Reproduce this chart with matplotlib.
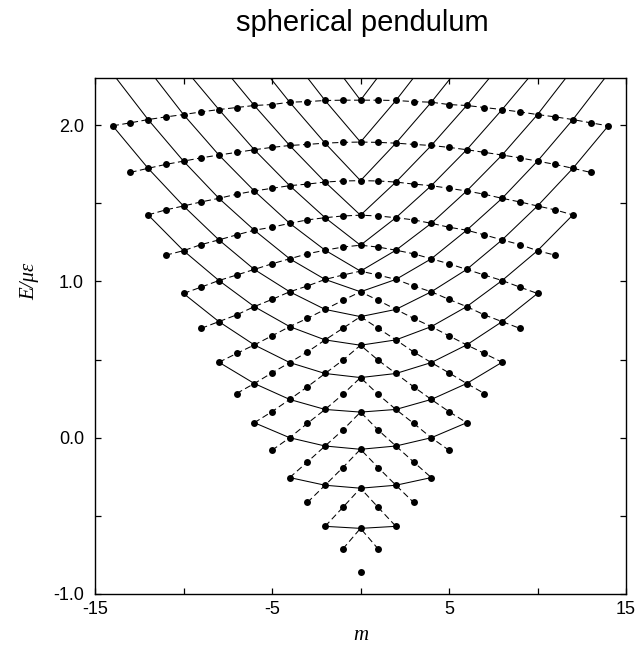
import numpy as np
import matplotlib
matplotlib.use('Agg')
import matplotlib.pyplot as plt

plt.rcParams['font.family'] = ['Liberation Sans', 'DejaVu Sans']
plt.rcParams['lines.scale_dashes'] = False

# E/(mu eps) of level (l, m) for m = 0..l, levels are symmetric in m
E0 = [-0.857]
E1 = [-0.580, -0.712]
E2 = [-0.323, -0.446, -0.567]
E3 = [-0.074, -0.191, -0.304, -0.414]
E4 = [0.164, 0.049, -0.053, -0.155, -0.255]
E5 = [0.385, 0.277, 0.181, 0.092, 0.000, -0.080]
E6 = [0.592, 0.496, 0.411, 0.326, 0.245, 0.167, 0.096]
E7 = [0.775, 0.700, 0.626, 0.549, 0.481, 0.415, 0.347, 0.283]
E8 = [0.934, 0.879, 0.821, 0.764, 0.711, 0.652, 0.594, 0.539, 0.483]
E9 = [1.066, 1.041, 1.013, 0.971, 0.934, 0.885, 0.839, 0.786, 0.743, 0.700]
E10 = [1.232, 1.220, 1.200, 1.177, 1.145, 1.113, 1.077, 1.041, 1.006, 0.964, 0.923]
E11 = [1.424, 1.419, 1.408, 1.394, 1.372, 1.347, 1.328, 1.298, 1.266, 1.236, 1.197, 1.168]
E12 = [1.645, 1.643, 1.636, 1.623, 1.613, 1.596, 1.579, 1.558, 1.532, 1.509, 1.483,
       1.458, 1.426]
E13 = [1.892, 1.890, 1.885, 1.877, 1.870, 1.858, 1.843, 1.826, 1.809, 1.791, 1.770,
       1.749, 1.724, 1.698]
E14 = [2.160, 2.160, 2.158, 2.151, 2.147, 2.132, 2.126, 2.113, 2.100, 2.085, 2.068,
       2.053, 2.036, 2.015, 1.996]
# l = 15, even m = 0, 2, ..., 14 (above the frame, only the line ends show)
E15_even = [2.47, 2.46, 2.45, 2.43, 2.40, 2.37, 2.36, 2.33]

levels = [E0, E1, E2, E3, E4, E5, E6, E7, E8, E9, E10, E11, E12, E13, E14]
lmax = len(levels) - 1


def energy(l, m):
    if l <= lmax:
        return levels[l][abs(m)]
    return E15_even[abs(m) // 2]


fig = plt.figure(figsize=(6.35, 6.5), dpi=100)
ax = fig.add_axes([95 / 635, 56 / 650, 531 / 635, 515.7 / 650])

# dashed: same l, m step 1
for l in range(1, lmax + 1):
    ms = list(range(-l, l + 1))
    ax.plot(ms, [energy(l, m) for m in ms], color='k', lw=0.75, dashes=(4.5, 2.5))

# solid: same n = 2l - |m|, even m only
for n in range(2, 2 * (lmax + 1), 2):
    ms = [m for m in range(-n, n + 1, 2) if (n + abs(m)) // 2 <= lmax + 1]
    ax.plot(ms, [energy((n + abs(m)) // 2, m) for m in ms], color='k', lw=0.75)

for l in range(lmax + 1):
    ms = np.arange(-l, l + 1)
    ax.plot(ms, [energy(l, m) for m in ms], 'o', color='k', ms=5, mew=0)

ax.set_xlim(-15, 15)
ax.set_ylim(-1.0, 2.3)
ax.set_xticks([-15, -5, 5, 15])
ax.set_xticklabels(['-15', '-5', '5', '15'])
ax.set_xticks([-10, 0, 10], minor=True)
ax.set_yticks([-1, 0, 1, 2])
ax.set_yticklabels(['-1.0', '0.0', '1.0', '2.0'])
ax.set_yticks([-0.5, 0.5, 1.5], minor=True)
ax.tick_params(which='both', direction='in', top=True, right=True, length=4,
               width=0.9, labelsize=13)
ax.tick_params(axis='x', pad=5)
ax.tick_params(axis='y', pad=8)
for s in ax.spines.values():
    s.set_linewidth(1.0)

fig.text(362 / 635, 1 - 23 / 650, 'spherical pendulum', ha='center', va='center',
         fontsize=21)
fig.text(30 / 635, 1 - 281 / 650, 'E/με', rotation=90, ha='center', va='center',
         fontsize=15, family=['Liberation Serif', 'DejaVu Serif'], style='italic')
fig.text(361 / 635, 14 / 650, 'm', ha='center', va='center', fontsize=15,
         family=['Liberation Serif', 'DejaVu Serif'], style='italic')

fig.savefig('out.png', dpi=100)
